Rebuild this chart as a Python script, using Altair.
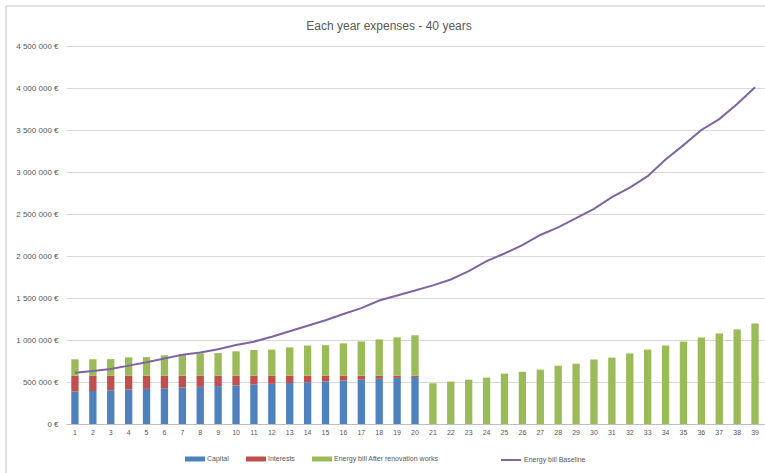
import altair as alt
import pandas as pd

# Years of the 40-year horizon shown on the x axis
years = list(range(1, 40))

# Loan repayment split (years 1-20), in euros
capital = [387000, 394000, 402000, 410000, 418000, 426000, 434000, 442000, 451000, 460000,
           469000, 478000, 488000, 497000, 507000, 517000, 527000, 538000, 549000, 560000]
interests = [189000, 182000, 174000, 166000, 158000, 150000, 142000, 134000, 125000, 116000,
             107000, 98000, 88000, 79000, 69000, 59000, 49000, 38000, 27000, 16000]

# Energy bill after the renovation works (years 1-39), in euros
energy_after = [194000, 194000, 196000, 218000, 220000, 242000, 250000, 265000, 268000, 289000,
                305000, 310000, 336000, 358000, 362000, 384000, 407000, 431000, 455000, 480000,
                485000, 505000, 528000, 552000, 600000, 622000, 648000, 694000, 718000, 768000,
                790000, 840000, 886000, 934000, 981000, 1031000, 1078000, 1126000, 1197000]

# Energy bill without renovation (baseline), in euros
energy_baseline = [611000, 632000, 655000, 695000, 734000, 780000, 825000, 850000, 890000, 940000,
                   980000, 1038000, 1105000, 1170000, 1235000, 1310000, 1380000, 1470000, 1530000, 1590000,
                   1650000, 1720000, 1820000, 1940000, 2030000, 2130000, 2250000, 2340000, 2450000, 2560000,
                   2700000, 2815000, 2950000, 3150000, 3320000, 3500000, 3630000, 3810000, 4010000]

bar_series = ["Capital", "Interests", "Energy bill After renovation works"]
bar_colors = ["#4F81BD", "#C0504D", "#9BBB59"]
line_color = "#8064A2"
text_color = "#595959"
grid_color = "#D9D9D9"
font = "Liberation Sans"

rows = []
for i, yr in enumerate(years):
    if i < len(capital):
        rows.append({"year": yr, "series": bar_series[0], "value": capital[i], "k": 0})
        rows.append({"year": yr, "series": bar_series[1], "value": interests[i], "k": 1})
    rows.append({"year": yr, "series": bar_series[2], "value": energy_after[i], "k": 2})
bars_df = pd.DataFrame(rows)

line_df = pd.DataFrame({"year": years, "series": "Energy bill Baseline", "value": energy_baseline})

x_enc = alt.X(
    "year:O",
    scale=alt.Scale(paddingInner=0.59, paddingOuter=0.295),
    axis=alt.Axis(title=None, labelAngle=0, ticks=False, domainColor="#BFBFBF",
                  labelFontSize=7, labelColor=text_color, labelPadding=4, labelFont=font),
)
y_scale = alt.Scale(domain=[0, 4500000], nice=False)
y_axis = alt.Axis(
    title=None,
    values=list(range(0, 4500001, 500000)),
    format="$,.0f",
    grid=True,
    gridColor=grid_color,
    domain=False,
    ticks=False,
    labelFontSize=8,
    labelColor=text_color,
    labelPadding=8,
    labelFont=font,
)

bars = alt.Chart(bars_df).mark_bar().encode(
    x=x_enc,
    y=alt.Y("value:Q", stack="zero", scale=y_scale, axis=y_axis),
    fill=alt.Fill(
        "series:N",
        scale=alt.Scale(domain=bar_series, range=bar_colors),
        legend=alt.Legend(
            title=None, orient="none", direction="horizontal",
            legendX=119, legendY=403,
            symbolType="M-1,-0.25L1,-0.25L1,0.25L-1,0.25Z", symbolSize=400,
            symbolStrokeWidth=0, labelFontSize=7, labelColor=text_color, labelFont=font,
            labelOffset=2, columnPadding=17,
        ),
    ),
    order=alt.Order("k:Q"),
)

line = alt.Chart(line_df).mark_line(strokeWidth=2).encode(
    x=alt.X("year:O"),
    y=alt.Y("value:Q", scale=y_scale),
    stroke=alt.Stroke(
        "series:N",
        scale=alt.Scale(range=[line_color]),
        legend=alt.Legend(
            title=None, orient="none", direction="horizontal",
            legendX=434, legendY=403,
            symbolType="stroke", symbolSize=400, symbolStrokeWidth=2,
            labelFontSize=7, labelColor=text_color, labelFont=font, labelOffset=2,
        ),
    ),
)

# Light chart-area frame (left and top edges)
frame_df = pd.DataFrame({"edge": ["left"]})
frame_left = alt.Chart(frame_df).mark_rule(color=grid_color, strokeWidth=1.5).encode(
    x=alt.value(-60), y=alt.value(-40), y2=alt.value(430)
)
frame_top = alt.Chart(frame_df).mark_rule(color=grid_color, strokeWidth=1.5).encode(
    x=alt.value(-60), x2=alt.value(700), y=alt.value(-40)
)

chart = alt.layer(frame_left, frame_top, bars, line).properties(
    width=698,
    height=378,
    autosize=alt.AutoSizeParams(type="none"),
    padding={"left": 66, "top": 46, "right": 1, "bottom": 49},
    title=alt.Title("Each year expenses - 40 years", fontSize=12, color=text_color,
                    font=font, fontWeight="normal", offset=-28, dx=-26),
).configure(
    locale={"number": {"decimal": ",", "thousands": " ", "grouping": [3], "currency": ["", " €"]}}
).configure_view(stroke=None)

chart.save("out.html", embed_options={"renderer": "svg", "actions": False})
